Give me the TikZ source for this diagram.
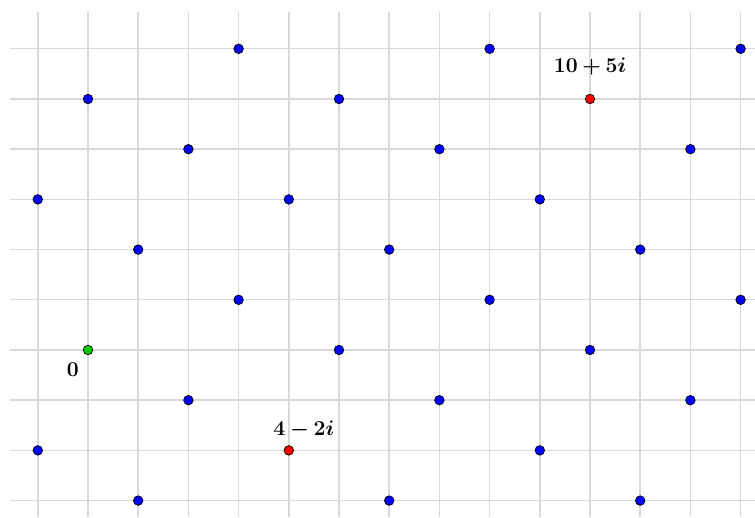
\documentclass[tikz,border=0pt]{standalone}
\usepackage{bm}
\usepackage{xcolor}
\usepackage{tikz}
\usetikzlibrary{positioning}

\begin{document}
\begin{tikzpicture}[
  font=\large,
  gridline/.style={draw=black!15, line width=0.8pt},
  latdot/.style={circle, draw=black, line width=0.4pt, fill=blue, inner sep=0pt, minimum size=0.19cm},
  lbl/.style={inner sep=0pt}
]
  \useasboundingbox (-1.753,-3.327) rectangle (13.287,6.972);
  \draw [gridline] (-1.55,-3.33) grid (13.29,6.73);

  % lattice points x+2y = 0 mod 5
  \foreach \x in {-1,...,13}{
    \foreach \y in {-3,...,6}{
      \pgfmathtruncatemacro{\r}{mod(\x+2*\y+50,5)}
      \pgfmathtruncatemacro{\s}{(\x==0 && \y==0) || (\x==4 && \y==-2) || (\x==10 && \y==5)}
      \ifnum\r=0 \ifnum\s=0
        \node [latdot] (d\x_\y) at (\x,\y) {};
      \fi\fi
    }
  }

  \node [latdot, fill=green!80!black] (o) at (0,0) {};
  \node [latdot, fill=red] (a) at (4,-2) {};
  \node [latdot, fill=red] (b) at (10,5) {};

  \node [lbl] (lo) [below=0.14cm of o, xshift=-0.3cm] {$\bm{0}$};
  \node [lbl] (la) [above=0.14cm of a, xshift=0.3cm] {$\bm{4-2i}$};
  \node [lbl] (lb) [above=0.36cm of b] {$\bm{10+5i}$};
\end{tikzpicture}
\end{document}
